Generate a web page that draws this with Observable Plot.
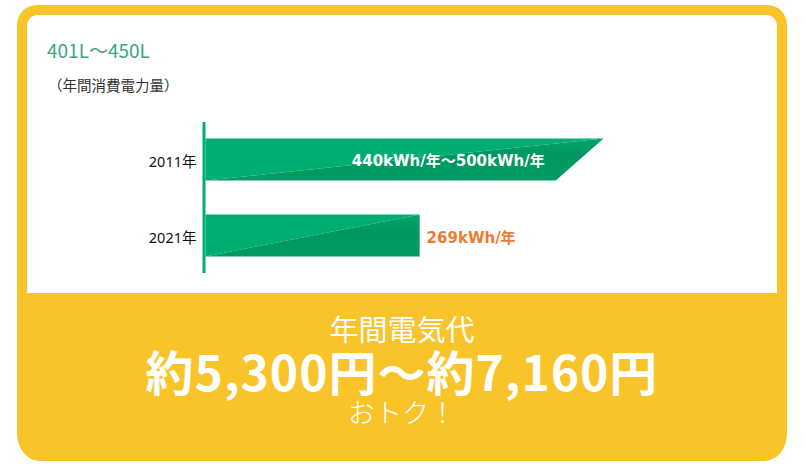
<!DOCTYPE html>
<html><head><meta charset="utf-8">
<script src="https://cdn.jsdelivr.net/npm/d3@7"></script>
<script src="https://cdn.jsdelivr.net/npm/@observablehq/plot@0.6"></script>
<style>
html,body{margin:0;padding:0;background:#fff;width:805px;height:475px;overflow:hidden;}
body{position:relative;font-family:"Noto Sans CJK JP","Noto Sans",sans-serif;}
.abs{position:absolute;}
#outer{left:17px;top:5px;width:770px;height:456px;background:#F9C42A;border-radius:20px 20px 22px 22px / 20px 20px 28px 28px;}
#panel{left:27px;top:15px;width:750px;height:278px;background:#fff;border-radius:11px 11px 0 0;}
#title{left:47px;top:38px;font-size:19px;line-height:24px;color:#3DA57F;white-space:nowrap;}
#sub{left:48px;top:75px;font-size:14.5px;line-height:20px;color:#333;white-space:nowrap;}
#chart{left:27px;top:100px;}
.ctr{left:17px;width:770px;text-align:center;color:#fff;white-space:nowrap;}
#b1{top:314px;font-size:29px;line-height:29px;font-weight:400;}
#b2{top:346px;font-size:48px;line-height:48px;font-weight:700;letter-spacing:1px;}
#b3{top:398px;font-size:27px;line-height:27px;font-weight:300;}
</style>
</head><body>
<div id="outer" class="abs"></div>
<div id="panel" class="abs"></div>
<div id="title" class="abs">401L〜450L</div>
<div id="sub" class="abs">（年間消費電力量）</div>
<div id="chart" class="abs"></div>
<div id="b1" class="abs ctr">年間電気代</div>
<div id="b2" class="abs ctr">約5,300円〜約7,160円</div>
<div id="b3" class="abs ctr">おトク！</div>
<script>
// ---- data ----
const years = ["2011年", "2021年"];
const lowKWh = [440, 269];
const highKWh = [500, 269];
const valueLabels = ["440kWh/年〜500kWh/年", "269kWh/年"];
const xTicks = [0, 500];

// ---- build shapes (derived from data) ----
const h = 21 / 76; // half bar thickness in row units
const polys = [];
years.forEach((yr, i) => {
  const top = i - h, bot = i + h;
  [[0, top], [highKWh[i], top], [0, bot]].forEach(([x, y]) => polys.push({id: "L" + i, part: "light", x, y}));
  [[0, bot], [highKWh[i], top], [lowKWh[i], bot]].forEach(([x, y]) => polys.push({id: "D" + i, part: "dark", x, y}));
});
const labels = years.map((yr, i) => ({i, yr, low: lowKWh[i], label: valueLabels[i]}));

const LIGHT = "#00AE73", AXIS = "#00AE73";
const JP = "Noto Sans CJK JP";
const YR = "Noto Sans, Noto Sans CJK JP, sans-serif";
const VAL = "DejaVu Sans, Noto Sans CJK JP, sans-serif";

const chart = Plot.plot({
  width: 750,
  height: 180,
  marginTop: 22,
  marginBottom: 7,
  marginLeft: 178,
  marginRight: 174,
  style: {fontFamily: JP, background: "transparent", overflow: "visible"},
  x: {domain: xTicks, range: [178, 576], axis: null},
  y: {domain: [0, 1], range: [59, 135], axis: null},
  marks: [
    Plot.line(polys.filter(d => d.part === "light"), {x: "x", y: "y", z: "id", fill: LIGHT, stroke: null, curve: "linear-closed"}),
    Plot.line(polys.filter(d => d.part === "dark"), {x: "x", y: "y", z: "id", fill: "url(#darkGrad)", stroke: null, curve: "linear-closed"}),
    Plot.ruleX([0], {stroke: AXIS, strokeWidth: 3, dx: -1.5}),
    Plot.axisY({ticks: [0, 1], tickFormat: i => years[i], tickSize: 0, tickPadding: 9, fontSize: 14.5, fontFamily: YR, fontVariant: "normal", fill: "#111", dy: 2.5}),
    Plot.text(labels.filter(d => d.i === 0), {x: "low", y: "i", text: "label", textAnchor: "end", dx: -11, dy: 2, fill: "#fff",
      fontSize: 15, fontWeight: "bold", fontFamily: VAL}),
    Plot.text(labels.filter(d => d.i === 1), {x: "low", y: "i", text: "label", textAnchor: "start", dx: 7, dy: 3, fill: "#EE7B35",
      fontSize: 15, fontWeight: "bold", fontFamily: VAL})
  ]
});
// gradient for the darker lower part of the bars
const defs = d3.select(chart).insert("defs", ":first-child");
const g = defs.append("linearGradient").attr("id", "darkGrad").attr("x1", 0).attr("y1", 0).attr("x2", 0).attr("y2", 1);
g.append("stop").attr("offset", 0).attr("stop-color", "#00A56B");
g.append("stop").attr("offset", 0.4).attr("stop-color", "#009760");
g.append("stop").attr("offset", 1).attr("stop-color", "#009C64");
document.getElementById("chart").appendChild(chart);
</script>
</body></html>
